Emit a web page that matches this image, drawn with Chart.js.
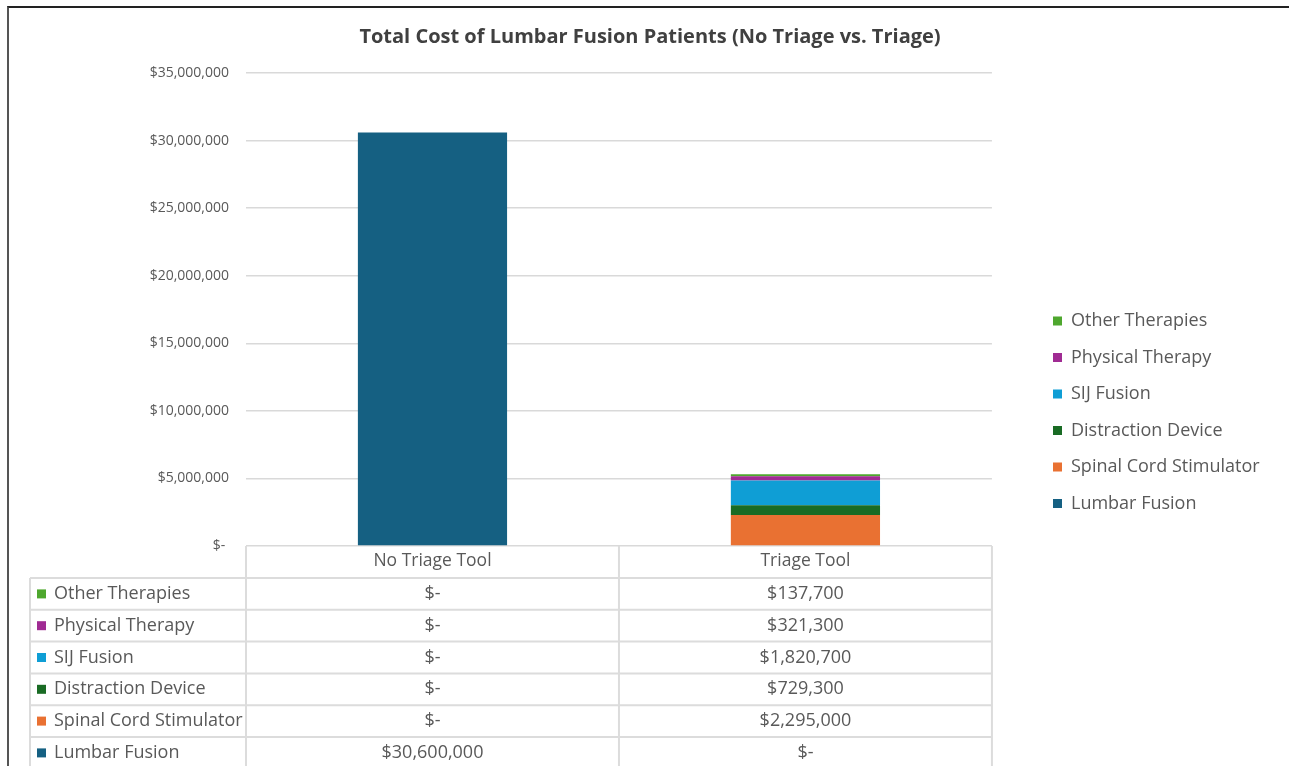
<!DOCTYPE html>
<html>
<head>
<meta charset="utf-8">
<script src="https://cdn.jsdelivr.net/npm/chart.js@4/dist/chart.umd.min.js"></script>
<style>
  html, body { margin: 0; padding: 0; background: #ffffff; }
  #wrap { position: relative; width: 1289px; height: 766px; overflow: hidden; }
  #frame { position: absolute; left: 7px; top: 6px; width: 1300px; height: 800px;
           border-top: 2px solid #222; border-left: 2px solid #555; pointer-events: none; }
  canvas { display: block; }
</style>
</head>
<body>
<div id="wrap">
  <canvas id="c" width="1289" height="766"></canvas>
  <div id="frame"></div>
</div>
<script>
// ---- data ----
const chartTitle = 'Total Cost of Lumbar Fusion Patients (No Triage vs. Triage)';
const categories = ['No Triage Tool', 'Triage Tool'];
const lumbarFusion = [30600000, 0];
const spinalCordStimulator = [0, 2295000];
const distractionDevice = [0, 729300];
const sijFusion = [0, 1820700];
const physicalTherapy = [0, 321300];
const otherTherapies = [0, 137700];
const yMin = 0;
const yMax = 35000000;
const yStep = 5000000;

// ---- styling ----
const FONT = '"Open Sans", Roboto, "Noto Sans", sans-serif';
const TEXT = '#595959';
const GRID = '#d9d9d9';

function money(v) {
  if (v === 0) return '$-';
  return '$' + Number(v).toLocaleString('en-US');
}

const datasets = [
  { label: 'Lumbar Fusion', data: lumbarFusion, backgroundColor: '#156082' },
  { label: 'Spinal Cord Stimulator', data: spinalCordStimulator, backgroundColor: '#E97132' },
  { label: 'Distraction Device', data: distractionDevice, backgroundColor: '#196B24' },
  { label: 'SIJ Fusion', data: sijFusion, backgroundColor: '#0F9ED5' },
  { label: 'Physical Therapy', data: physicalTherapy, backgroundColor: '#A02B93' },
  { label: 'Other Therapies', data: otherTherapies, backgroundColor: '#4EA72E' }
].map(d => Object.assign(d, { borderWidth: 0, barPercentage: 0.4, categoryPercentage: 1.0, stack: 's' }));

const LEG_FONT = 18;
const LEG_PAD = 18.5;
const ROW_H = 31.8;
const HEAD_H = 32;

// Place legend and title where the reference has them
const placeBoxes = {
  id: 'placeBoxes',
  afterLayout(chart) {
    const lg = chart.legend;
    if (lg) {
      const dx = (1053 - LEG_PAD) - lg.left;
      const dy = (321 - LEG_FONT / 2 - LEG_PAD) - lg.top;
      lg.left += dx; lg.right += dx;
      lg.top += dy; lg.bottom += dy;
    }
    const tb = chart.titleBlock;
    if (tb) {
      tb.left = 0; tb.right = 1300; tb.width = 1300;
    }
  }
};

// Data table under the plot
const dataTable = {
  id: 'dataTable',
  afterDraw(chart) {
    const ctx = chart.ctx;
    const x = chart.scales.x;
    const top = chart.chartArea.bottom;
    const leftCol = 30;
    const plotL = x.left, plotR = x.right;
    const bottom = chart.height + 5;
    ctx.save();
    ctx.strokeStyle = '#dcdcdc';
    ctx.lineWidth = 2;
    ctx.beginPath();
    const mids = [plotL];
    for (let i = 0; i < categories.length - 1; i++) {
      mids.push((x.getPixelForValue(i) + x.getPixelForValue(i + 1)) / 2);
    }
    mids.push(plotR);
    mids.forEach(px => { ctx.moveTo(px, top); ctx.lineTo(px, bottom); });
    ctx.moveTo(leftCol, top + HEAD_H); ctx.lineTo(leftCol, bottom);
    const rows = datasets.slice().reverse();
    for (let r = 0; r < rows.length; r++) {
      const y = top + HEAD_H + r * ROW_H;
      ctx.moveTo(leftCol, y); ctx.lineTo(plotR, y);
    }
    ctx.stroke();

    ctx.font = '18px ' + FONT;
    ctx.textBaseline = 'middle';
    rows.forEach((ds, r) => {
      const yc = top + HEAD_H + r * ROW_H + ROW_H / 2;
      ctx.fillStyle = ds.backgroundColor;
      ctx.fillRect(leftCol + 7, yc - 4.5, 9, 9);
      ctx.fillStyle = TEXT;
      ctx.textAlign = 'left';
      ctx.fillText(ds.label, leftCol + 24, yc);
      ctx.textAlign = 'center';
      ds.data.forEach((v, i) => {
        ctx.fillText(money(v), x.getPixelForValue(i), yc);
      });
    });
    ctx.restore();
  }
};

new Chart(document.getElementById('c'), {
  type: 'bar',
  data: { labels: categories, datasets },
  plugins: [placeBoxes, dataTable],
  options: {
    responsive: false,
    animation: false,
    devicePixelRatio: 1,
    layout: { padding: { left: 0, right: 62, top: 0, bottom: 0 } },
    plugins: {
      title: {
        display: true,
        text: chartTitle,
        color: '#404040',
        font: { family: FONT, size: 20, weight: 'bold' },
        padding: { top: 25, bottom: 24 }
      },
      legend: {
        position: 'right',
        align: 'start',
        reverse: true,
        labels: {
          boxWidth: 9,
          boxHeight: 9,
          padding: LEG_PAD,
          color: TEXT,
          font: { family: FONT, size: LEG_FONT }
        }
      },
      tooltip: { enabled: false }
    },
    scales: {
      x: {
        stacked: true,
        grid: { display: false, drawTicks: false },
        border: { display: false },
        ticks: {
          color: TEXT,
          padding: 5,
          font: { family: FONT, size: 17.5 }
        },
        afterFit(scale) { scale.height = 220; }
      },
      y: {
        stacked: true,
        min: yMin,
        max: yMax,
        grid: { color: GRID, lineWidth: 1.5, drawTicks: false },
        border: { display: false },
        ticks: {
          stepSize: yStep,
          color: TEXT,
          padding: 17,
          font: { family: FONT, size: 14 },
          callback: v => (v === 0 ? '$- ' : money(v))
        },
        afterFit(scale) { scale.width = 246; }
      }
    }
  }
});
</script>
</body>
</html>
